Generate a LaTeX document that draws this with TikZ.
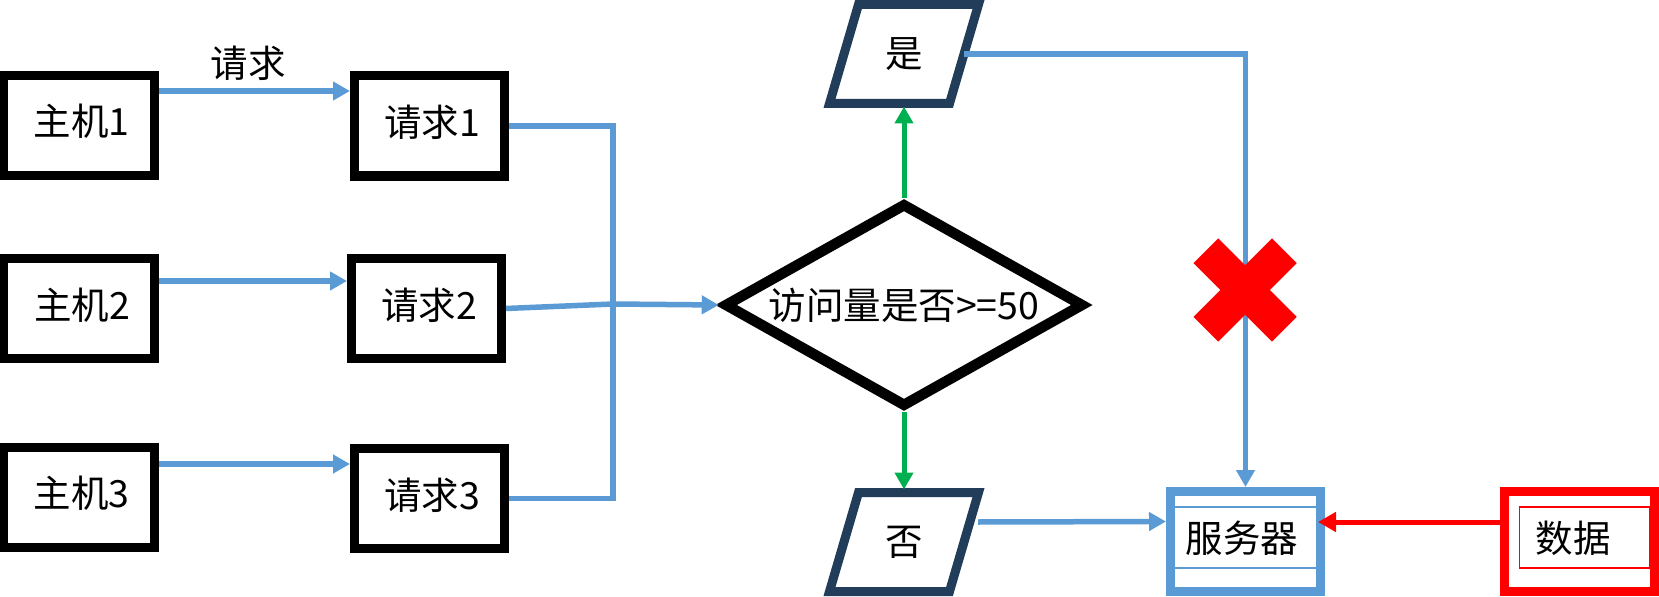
\documentclass[tikz,border=0pt]{standalone}
\usepackage{fontspec}
\setmainfont{Noto Sans CJK SC}
\usetikzlibrary{arrows.meta,shapes.geometric,calc}
\definecolor{cblue}{HTML}{5B9BD5}
\definecolor{cnavy}{RGB}{33,61,89}
\definecolor{cgreen}{HTML}{00B050}
\definecolor{cred}{HTML}{FF0000}
\begin{document}
\begin{tikzpicture}[x=1bp,y=-1bp,
  font=\fontsize{37.5bp}{42bp}\selectfont,
  box/.style={draw=black,line width=9bp,minimum width=150bp,minimum height=100bp,inner sep=0pt,text height=26bp,text depth=5bp},
  flow/.style={draw=cblue,line width=5.5bp,-{Triangle[length=17bp,width=18bp]}},
  busline/.style={draw=cblue,line width=5.5bp},
  gflow/.style={draw=cgreen,line width=5bp,-{Triangle[length=17bp,width=18bp]}},
  rflow/.style={draw=cred,line width=5bp,-{Triangle[length=18bp,width=19bp]}},
  para/.style={draw=cnavy,line width=9bp,line join=miter},
  plain/.style={inner sep=0pt,outer sep=0pt,minimum width=120bp,minimum height=99bp},
  txt/.style={inner sep=0pt}
]
\useasboundingbox[fill=white] (0,0) rectangle (1659,597);

% hosts and requests
\node[box] (h1) at (79,125.5) {\kern5bp 主机1};
\node[box] (h2) at (79,308.5) {\kern6bp 主机2};
\node[box] (h3) at (79,497) {\kern5bp 主机3};
\node[box] (r1) at (429.5,126) {\kern5bp 请求1};
\node[box] (r2) at (426.5,308.5) {\kern5bp 请求2};
\node[box] (r3) at (429.5,498.5) {\kern5bp 请求3};
\node[txt] (lbl) at (248,63) {请求};

\draw[flow] ($(h1.east)+(0,-34.5)$) -- ($(r1.west)+(0,-35)$);
\draw[flow] ($(h2.east)+(0,-27.5)$) -- ($(r2.west)+(0,-27.5)$);
\draw[flow] ($(h3.east)+(0,-33)$) -- ($(r3.west)+(0,-34.5)$);

% decision
\node[draw=black,line width=10.5bp,diamond,aspect=1.765,minimum width=360bp,minimum height=204bp,inner sep=0pt] (dia) at (904,305) {访问量是否>=50};

\coordinate (bus) at (613,304);
\draw[busline] (r1.east) -| (bus) |- (r3.east);
\draw[flow] (r2.east) -- (bus) -- (dia.west);

% yes / no parallelograms
\node[plain] (yes) at (904,54) {是};
\draw[para] ($(yes.north west)+(14.5,0)$) -- ($(yes.north east)+(14.5,0)$) -- ($(yes.south east)+(-14.5,0)$) -- ($(yes.south west)+(-14.5,0)$) -- cycle;
\node[plain] (no) at (904,542) {否};
\draw[para] ($(no.north west)+(14.5,0)$) -- ($(no.north east)+(14.5,0)$) -- ($(no.south east)+(-14.5,0)$) -- ($(no.south west)+(-14.5,0)$) -- cycle;

\draw[gflow] (dia.north) -- ($(dia.north |- yes.south)+(0,3)$);
\draw[gflow] (dia.south) -- ($(dia.south |- no.north)+(0,-3)$);

% server
\node[draw=cblue,line width=9bp,minimum width=150bp,minimum height=100bp,inner sep=0pt] (srv) at (1245.5,541.5) {};
\node[txt] (srvt) at (1242,538) {服务器};
\draw[cblue,line width=1.5bp] ($(srv.west)+(9,-34.5)$) -- ($(srv.east)+(-9,-34.5)$);
\draw[cblue,line width=1.5bp] ($(srv.west)+(9,26.5)$) -- ($(srv.east)+(-9,26.5)$);

% data
\node[draw=cred,line width=9bp,minimum width=150bp,minimum height=100bp,inner sep=0pt] (dat) at (1579.5,541.5) {};
\draw[cred,line width=1.5bp] ($(dat.center)+(-60,-34.5)$) rectangle ($(dat.center)+(70.5,26.5)$);
\node[txt] (datt) at (1573,538) {数据};

\draw[flow] (yes.east) -| (srv.north);
\draw[flow] ($(no.east)+(14,-20)$) -- ($(srv.west)+(0,-20)$);
\draw[rflow] ($(dat.west)+(0,-19.5)$) -- ($(srv.east)+(-7,-19.5)$);

% red cross
\coordinate (xm) at (1245,290);
\fill[cred,shift={(xm)},rotate=45] (-55.5,-17.5) rectangle (55.5,17.5);
\fill[cred,shift={(xm)},rotate=-45] (-55.5,-17.5) rectangle (55.5,17.5);
\end{tikzpicture}
\end{document}
